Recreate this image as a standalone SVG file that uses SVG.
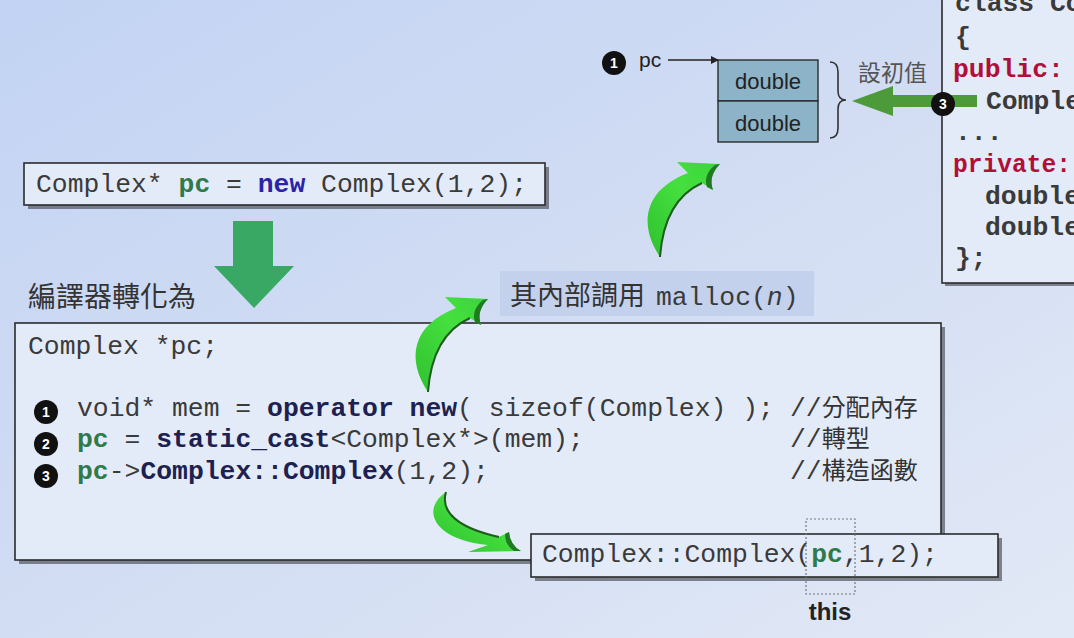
<svg xmlns="http://www.w3.org/2000/svg" width="1074" height="638" viewBox="0 0 1074 638">
  <defs>
    <linearGradient id="bg" x1="0" y1="0" x2="1" y2="1">
      <stop offset="0" stop-color="#c2d3f3"/>
      <stop offset="0.5" stop-color="#d2ddf3"/>
      <stop offset="1" stop-color="#e2e9f6"/>
    </linearGradient>
    <linearGradient id="curveGreen" x1="0" y1="1" x2="1" y2="0">
      <stop offset="0" stop-color="#2fc02f"/>
      <stop offset="0.6" stop-color="#45e03f"/>
      <stop offset="1" stop-color="#3ad43a"/>
    </linearGradient>
    <marker id="tip" markerWidth="8" markerHeight="8" refX="7" refY="4" orient="auto" markerUnits="userSpaceOnUse">
      <path d="M0,0 L8,4 L0,8 Z" fill="#222"/>
    </marker>
    <!-- curved 3D-style arrow sweeping up and to the right -->
    <g id="curveUp">
      <path d="M660,257 C638,224 644,190 688,173 L677,162 L720,164 Q708,176 713,190 L702,183 C680,193 663,215 660,257 Z" fill="url(#curveGreen)"/>
      <path d="M702,183 C680,193 663,215 660,257" fill="none" stroke="#1d5e1d" stroke-width="2"/>
      <path d="M720,164 Q708,176 713,190 L707,187 Q703,175 715,165 Z" fill="#1f7a22"/>
    </g>
  </defs>
  <style>
    .code { font-family: "Liberation Mono", "Courier New", monospace; font-size: 26.4px; fill: #3a3a3a; }
    .kw { font-weight: bold; fill: #1c2150; }
    .kwnew { font-weight: bold; fill: #2a23a8; }
    .var { font-weight: bold; fill: #2f7a4c; }
    .acc { font-weight: bold; fill: #b01038; }
    .cjk { font-family: "Noto Sans CJK TC", "Noto Sans CJK SC", sans-serif; fill: #333; }
    .sans { font-family: "Liberation Sans", Arial, sans-serif; fill: #222; }
    .box { fill: #e4ebf8; stroke: #2b2b2b; stroke-width: 1.6; }
    .shadow { fill: #5a5f6a; opacity: 0.75; }
    .num { fill: #111; }
    .numtxt { font-family: "Liberation Sans", Arial, sans-serif; font-weight: bold; font-size: 14px; fill: #fff; text-anchor: middle; }
    .cell { fill: #8db3c8; stroke: #2b2b2b; stroke-width: 1.4; }
  </style>

  <rect width="1074" height="638" fill="url(#bg)"/>

  <!-- class declaration panel, clipped by the right edge -->
  <g id="class-panel">
    <rect x="945" y="-6" width="140" height="292" class="shadow"/>
    <rect x="942" y="-8" width="140" height="291" class="box"/>
    <text class="code" font-weight="bold" x="955" y="11">class Co</text>
    <text class="code" font-weight="bold" x="955" y="45">{</text>
    <text class="code acc" x="953" y="77">public:</text>
    <text class="code" font-weight="bold" x="986" y="109">Comple</text>
    <text class="code" font-weight="bold" x="955" y="140">...</text>
    <text class="code acc" x="953" y="172" textLength="118" lengthAdjust="spacingAndGlyphs">private:</text>
    <text class="code" font-weight="bold" x="985" y="204">double</text>
    <text class="code" font-weight="bold" x="985" y="235">double</text>
    <text class="code" font-weight="bold" x="955" y="266">};</text>
  </g>

  <!-- object layout in memory -->
  <g id="memory">
    <rect x="718" y="60" width="100" height="41" class="cell"/>
    <rect x="718" y="101" width="100" height="41" class="cell"/>
    <text class="sans" x="768" y="89" font-size="22" text-anchor="middle">double</text>
    <text class="sans" x="768" y="131" font-size="22" text-anchor="middle">double</text>
    <path d="M830,62 Q838,62 838,72 L838,91 Q838,100 846,100 Q838,100 838,109 L838,128 Q838,138 830,138" fill="none" stroke="#333" stroke-width="1.6"/>
    <text class="cjk" x="858" y="81" font-size="23" style="fill:#555">設初值</text>
  </g>

  <g id="pointer-pc">
    <circle cx="614" cy="63" r="12" class="num"/>
    <text class="numtxt" x="614" y="68">1</text>
    <text class="sans" x="639" y="67" font-size="21">pc</text>
  </g>

  <!-- source statement -->
  <g id="source-stmt">
    <rect x="28" y="167" width="521" height="42" class="shadow"/>
    <rect x="24" y="163" width="521" height="42" class="box"/>
    <text class="code" x="36" y="192">Complex* <tspan class="var">pc</tspan> = <tspan class="kwnew">new</tspan> Complex(1,2);</text>
  </g>

  <text id="label-compiler" class="cjk" x="28" y="307" font-size="28">編譯器轉化為</text>

  <!-- expanded code -->
  <g id="expanded-code">
    <rect x="19" y="327" width="926" height="237" class="shadow"/>
    <rect x="15" y="323" width="926" height="237" class="box"/>
    <text class="code" x="28" y="354">Complex *pc;</text>
    <circle cx="46" cy="412" r="12" class="num"/>
    <text class="numtxt" x="46" y="417">1</text>
    <circle cx="46" cy="444" r="12" class="num"/>
    <text class="numtxt" x="46" y="449">2</text>
    <circle cx="46" cy="476" r="12" class="num"/>
    <text class="numtxt" x="46" y="481">3</text>
    <text class="code" x="77" y="416">void* mem = <tspan class="kw">operator new</tspan>( sizeof(Complex) );</text>
    <text class="code" x="77" y="447"><tspan class="var">pc</tspan> = <tspan class="kw">static_cast</tspan>&lt;Complex*&gt;(mem);</text>
    <text class="code" x="77" y="479"><tspan class="var">pc</tspan>-&gt;<tspan class="kw">Complex::Complex</tspan>(1,2);</text>
    <text class="code" x="790" y="416">//<tspan class="cjk" font-size="24">分配內存</tspan></text>
    <text class="code" x="790" y="447">//<tspan class="cjk" font-size="24">轉型</tspan></text>
    <text class="code" x="790" y="479">//<tspan class="cjk" font-size="24">構造函數</tspan></text>
  </g>

  <!-- malloc note -->
  <g id="malloc-note">
    <rect x="500" y="271" width="314" height="45" fill="#c4d1ec"/>
    <text class="cjk" x="510" y="305" font-size="27">其內部調用</text>
    <text class="code" x="656" y="305">malloc(<tspan font-style="italic">n</tspan>)</text>
  </g>

  <!-- constructor call -->
  <g id="ctor-call">
    <rect x="535" y="538" width="467" height="43" class="shadow"/>
    <rect x="531" y="534" width="467" height="43" class="box"/>
    <text class="code" x="542" y="562">Complex::Complex(<tspan class="var">pc</tspan>,1,2);</text>
    <rect x="806" y="519" width="49" height="75" fill="none" stroke="#777" stroke-width="1.2" stroke-dasharray="2,2"/>
    <text class="sans" x="830" y="620" font-size="24" font-weight="bold" text-anchor="middle">this</text>
  </g>

  <!-- connectors -->
  <g id="connectors">
    <line x1="668" y1="60" x2="718" y2="60" stroke="#222" stroke-width="1.5" marker-end="url(#tip)"/>
    <path d="M233,221 L273,221 L273,266 L294,266 L254,308 L214,266 L233,266 Z" fill="#38a864"/>
    <path d="M852,101 L893,86 L893,116 Z" fill="#4d9a3b"/>
    <rect x="893" y="95" width="84" height="12" fill="#4d9a3b"/>
    <use href="#curveUp"/>
    <use href="#curveUp" transform="translate(-232,135)"/>
    <path d="M446,492 C420,510 434,540 488,545 L468,552 L521,551 Q510,545 509,532 L499,537 C458,528 440,512 446,492 Z" fill="url(#curveGreen)"/>
    <path d="M446,492 C440,512 458,528 499,537" fill="none" stroke="#1d5e1d" stroke-width="2"/>
    <path d="M509,532 Q510,545 521,551 L514,551 Q505,545 505,534 Z" fill="#1f7a22"/>
  </g>

  <!-- step 3 marker drawn over the green arrow -->
  <g id="step3">
    <circle cx="943" cy="104" r="12" class="num"/>
    <text class="numtxt" x="943" y="109">3</text>
  </g>
</svg>
